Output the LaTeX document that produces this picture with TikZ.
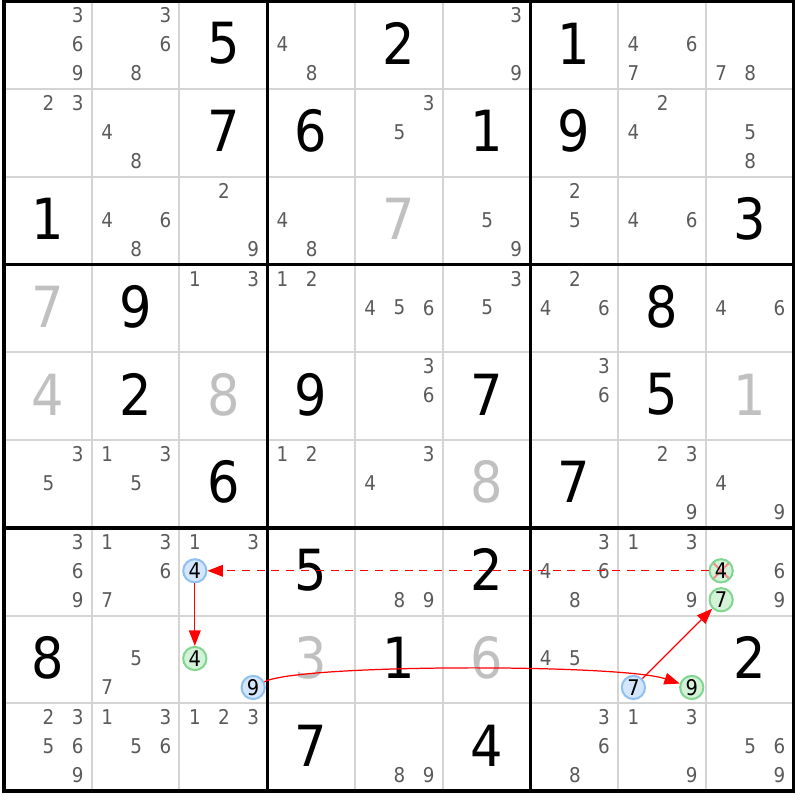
\documentclass[tikz,border=0pt]{standalone}
\usepackage{fontspec}
\setmainfont[FakeStretch=0.9]{DejaVu Sans}
\usetikzlibrary{arrows.meta}
\definecolor{candgray}{HTML}{5A5A5A}
\definecolor{solvedgray}{HTML}{C0C0C0}
\definecolor{cellline}{HTML}{D4D4D4}
\definecolor{bluering}{HTML}{90C0F0}
\definecolor{bluefill}{HTML}{D4E6FB}
\definecolor{greenring}{HTML}{80D690}
\definecolor{greenfill}{HTML}{D4F2D8}
\definecolor{crosspink}{HTML}{F29090}
\begin{document}
\begin{tikzpicture}[
        x=1cm, y=-1cm,
        thinline/.style={cellline, line width=0.65pt},
        thickline/.style={black, line width=1.1pt},
        given/.style={font=\fontsize{18.4}{20}\selectfont, text=black, inner sep=0pt},
        solved/.style={given, text=solvedgray},
        cand/.style={font=\fontsize{6.6}{7}\selectfont, text=candgray, inner sep=0pt},
        ring/.style={circle, line width=0.65pt, minimum size=0.265cm, inner sep=0pt,
            font=\fontsize{7}{8}\selectfont, text=black},
        blue cand/.style={ring, draw=bluering, fill=bluefill},
        green cand/.style={ring, draw=greenring, fill=greenfill},
        link/.style={-{Triangle[length=5pt,width=3.8pt]}, red, line width=0.4pt}
    ]
        \useasboundingbox (-0.046,-0.017) rectangle (9.068,9.103);

        % Grid
        \foreach \i in {1,2,4,5,7,8} {
            \draw[thinline] (\i,0) -- (\i,9);
            \draw[thinline] (0,\i) -- (9,\i);
        }
        \foreach \i in {3,6} {
            \draw[thickline] (\i,0) -- (\i,9);
            \draw[thickline] (0,\i) -- (9,\i);
        }
        \draw[thickline] (0,0) rectangle (9,9);

        % Givens
        \foreach \r/\c/\d in {1/3/5, 1/5/2, 1/7/1, 2/3/7, 2/4/6, 2/6/1, 2/7/9,
                3/1/1, 3/9/3, 4/2/9, 4/8/8, 5/2/2, 5/4/9, 5/6/7, 5/8/5,
                6/3/6, 6/7/7, 7/4/5, 7/6/2, 8/1/8, 8/5/1, 8/9/2, 9/4/7, 9/6/4}
            \node[given] (v\r\c) at (\c-0.5,\r-0.52) {\d};

        % Solved
        \foreach \r/\c/\d in {3/5/7, 4/1/7, 5/1/4, 5/3/8, 5/9/1, 6/6/8, 8/4/3, 8/6/6}
            \node[solved] (v\r\c) at (\c-0.5,\r-0.52) {\d};

        % Candidates
        \foreach \r/\c/\ds in {1/1/{3,6,9}, 1/2/{3,6,8}, 1/4/{4,8}, 1/6/{3,9}, 1/8/{4,6,7}, 1/9/{7,8},
                2/1/{2,3}, 2/2/{4,8}, 2/5/{3,5}, 2/8/{2,4}, 2/9/{5,8},
                3/2/{4,6,8}, 3/3/{2,9}, 3/4/{4,8}, 3/6/{5,9}, 3/7/{2,5}, 3/8/{4,6},
                4/3/{1,3}, 4/4/{1,2}, 4/5/{4,5,6}, 4/6/{3,5}, 4/7/{2,4,6}, 4/9/{4,6},
                5/5/{3,6}, 5/7/{3,6},
                6/1/{3,5}, 6/2/{1,3,5}, 6/4/{1,2}, 6/5/{3,4}, 6/8/{2,3,9}, 6/9/{4,9},
                7/1/{3,6,9}, 7/2/{1,3,6,7}, 7/3/{1,3}, 7/5/{8,9}, 7/7/{3,4,6,8}, 7/8/{1,3,9}, 7/9/{6,9},
                8/2/{5,7}, 8/7/{4,5},
                9/1/{2,3,5,6,9}, 9/2/{1,3,5,6}, 9/3/{1,2,3}, 9/5/{8,9}, 9/7/{3,6,8}, 9/8/{1,3,9}, 9/9/{5,6,9}} {
            \foreach \d in \ds {
                \pgfmathsetmacro\cx{\c-1+0.175+0.3325*mod(\d-1,3)}
                \pgfmathsetmacro\cy{\r-1+0.16+0.33*floor((\d-1)/3)}
                \node[cand] (p\r\c\d) at (\cx,\cy) {\d};
            }
        }

        % Highlighted candidates
        \node[blue cand] (h734) at (2.175,6.49) {4};
        \node[green cand] (h834) at (2.175,7.49) {4};
        \node[blue cand] (h839) at (2.84,7.82) {9};
        \node[blue cand] (h887) at (7.175,7.82) {7};
        \node[green cand] (h889) at (7.84,7.82) {9};
        \node[green cand, path picture={
                \draw[crosspink, line width=0.65pt]
                    (path picture bounding box.north west) -- (path picture bounding box.south east)
                    (path picture bounding box.north east) -- (path picture bounding box.south west);
            }] (h794) at (8.175,6.49) {4};
        \node[green cand] (h797) at (8.175,6.82) {7};

        % Links
        \draw[link, dash pattern=on 2.6pt off 2.2pt] (h794) -- (h734);
        \draw[link] (h734) -- (h834);
        \draw[link] (h839) .. controls (3.37,7.55) and (7.02,7.55) .. (h889);
        \draw[link] (h887) -- (h797);
    \end{tikzpicture}
\end{document}
